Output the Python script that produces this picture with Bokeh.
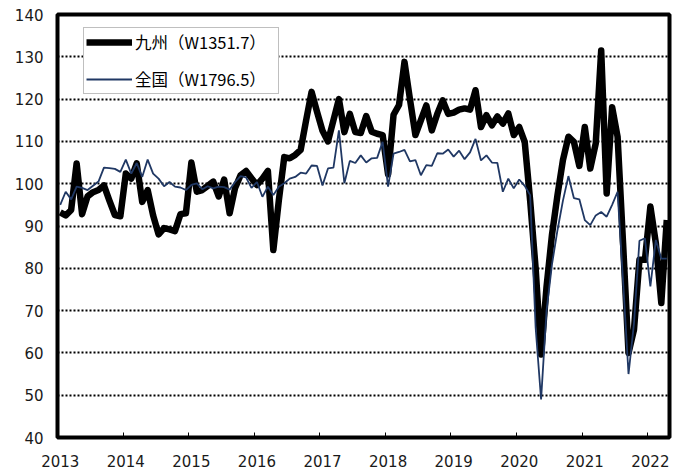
from bokeh.plotting import figure
from bokeh.models import Range1d, FixedTicker, Legend, LegendItem
from bokeh.embed import file_html
from bokeh.resources import INLINE

# monthly index, Jan 2013 .. Apr 2022
year_labels = ["2013", "2014", "2015", "2016", "2017", "2018", "2019", "2020", "2021", "2022"]

kyushu = [
    93.2, 92.5, 93.8, 104.8, 92.8, 97.0, 98.0, 98.5, 99.6, 96.0, 92.6, 92.3,
    102.4, 101.2, 104.8, 95.7, 98.5, 92.5, 88.0, 89.5, 89.2, 88.8, 92.8, 93.0,
    105.0, 98.1, 98.5, 99.5, 100.5, 97.0, 101.0, 93.0, 99.0, 102.0, 103.0, 101.3,
    99.7, 101.2, 103.0, 84.3, 96.0, 106.3, 106.0, 106.8, 108.0, 115.0, 121.7, 117.0,
    112.5, 110.0, 115.0, 120.0, 112.2, 116.5, 112.2, 112.0, 116.0, 112.3, 111.8, 111.5,
    102.2, 116.3, 118.6, 128.8, 120.0, 111.5, 115.0, 118.5, 112.6, 116.5, 119.7, 116.5,
    116.8, 117.5, 117.8, 117.5, 122.1, 113.4, 116.2, 113.8, 115.9, 114.2, 116.6, 111.5,
    113.4, 109.9, 96.0, 80.0, 59.6, 75.7, 88.0, 97.3, 105.6, 111.1, 109.9, 104.2,
    113.4, 103.6, 109.5, 131.5, 97.7, 118.1, 111.1, 86.0, 60.0, 65.5, 82.0, 82.0,
    94.6, 86.0, 71.8, 91.4,
]

national = [
    95.0, 98.1, 96.3, 99.3, 99.0, 98.5, 99.5, 100.5, 103.8, 103.7, 103.5, 102.8,
    105.7, 102.4, 104.9, 101.6, 105.7, 102.4, 101.2, 99.4, 100.4, 99.3, 99.1, 98.5,
    99.7, 100.1, 98.7, 99.4, 98.9, 99.3, 99.2, 98.6, 100.4, 101.8, 101.5, 99.0,
    100.4, 96.9, 99.3, 97.3, 99.3, 100.1, 101.2, 101.6, 102.6, 102.4, 104.3, 104.2,
    99.6, 103.6, 103.8, 112.6, 100.1, 105.4, 104.9, 106.7, 105.0, 106.0, 106.1, 109.9,
    99.3, 107.1, 107.5, 108.0, 105.3, 105.6, 102.0, 104.4, 104.2, 107.2, 107.1, 108.1,
    106.4, 107.8, 105.8, 107.4, 110.6, 105.5, 106.7, 105.0, 104.9, 98.1, 101.2, 98.9,
    101.0, 99.5, 97.3, 66.0, 49.0, 70.0, 81.0, 89.0, 96.0, 101.8, 96.6, 96.3,
    91.4, 90.2, 92.5, 93.3, 92.2, 95.0, 98.1, 77.0, 55.0, 67.0, 86.5, 87.1,
    75.7, 86.7, 82.3, 82.3,
]

series_names = ["九州（W1351.7）", "全国（W1796.5）"]
y_ticks = list(range(40, 141, 10))

months = list(range(len(kyushu)))
n = len(months)

p = figure(width=680, height=469, output_backend="svg", toolbar_location=None,
           x_range=Range1d(-0.5, n - 0.5), y_range=Range1d(40, 140),
           min_border_left=57, min_border_right=11, min_border_top=14, min_border_bottom=31)

p.background_fill_color = "white"
p.border_fill_color = "white"
p.outline_line_color = "black"
p.outline_line_width = 4

# y axis
yt = FixedTicker(ticks=y_ticks)
p.yaxis.ticker = yt
p.yaxis.axis_line_color = None
p.yaxis.major_tick_line_color = None
p.yaxis.minor_tick_line_color = None
p.yaxis.major_label_standoff = 8
p.yaxis.major_label_text_font = "DejaVu Sans"
p.yaxis.major_label_text_font_size = "15px"
p.yaxis.major_label_text_color = "#1a1a1a"

# grid
p.xgrid.grid_line_color = None
p.ygrid.ticker = yt
p.ygrid.grid_line_color = "black"
p.ygrid.grid_line_alpha = 1.0
p.ygrid.grid_line_dash = "2 2"
p.ygrid.grid_line_width = 2

# x axis
year_ticks = [12 * k for k in range(len(year_labels))]
boundary_ticks = [12 * k - 0.5 for k in range(1, len(year_labels))]
p.xaxis.ticker = FixedTicker(ticks=year_ticks, minor_ticks=boundary_ticks)
p.xaxis.major_label_overrides = {t: lab for t, lab in zip(year_ticks, year_labels)}
p.xaxis.axis_line_color = None
p.xaxis.major_tick_line_color = None
p.xaxis.minor_tick_line_color = "black"
p.xaxis.minor_tick_in = 5
p.xaxis.minor_tick_out = 0
p.xaxis.major_label_standoff = 11
p.xaxis.major_label_text_font = "DejaVu Sans"
p.xaxis.major_label_text_font_size = "15px"
p.xaxis.major_label_text_color = "#1a1a1a"

r1 = p.line(months, kyushu, line_color="black", line_width=6.5, line_join="round")
r2 = p.line(months, national, line_color="#203864", line_width=1.8)

legend = Legend(items=[LegendItem(label=series_names[0], renderers=[r1]),
                       LegendItem(label=series_names[1], renderers=[r2])],
                location=(26, 343))
legend.label_text_font = "Noto Sans CJK JP"
legend.label_text_font_size = "16.5px"
legend.label_text_color = "black"
legend.glyph_width = 46
legend.glyph_height = 20
legend.label_height = 20
legend.label_width = 141
legend.label_standoff = 3
legend.padding = 2
legend.spacing = 13
legend.margin = 0
legend.border_line_color = "#7f7f7f"
legend.border_line_width = 1
legend.background_fill_color = "white"
legend.background_fill_alpha = 1
p.add_layout(legend, "center")

open("out.html", "w").write(file_html(p, INLINE))
